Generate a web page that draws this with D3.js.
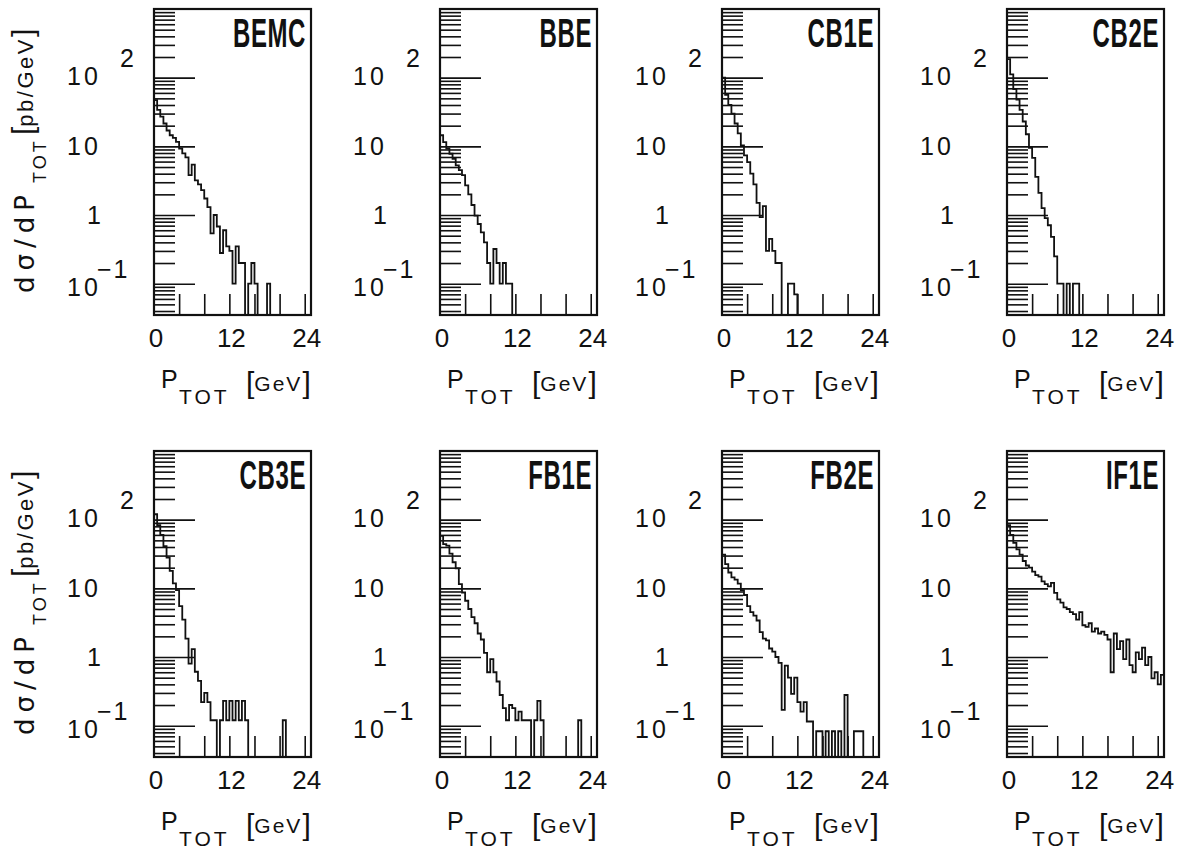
<!DOCTYPE html>
<html><head><meta charset="utf-8">
<script src="https://cdn.jsdelivr.net/npm/d3@7"></script>
<style>body{margin:0;background:#fff}svg{display:block}</style>
</head><body><svg id="c" width="1179" height="854"></svg>
<script>
// ---------------- data ----------------
const panelNames = ["BEMC","BBE","CB1E","CB2E","CB3E","FB1E","FB2E","IF1E"];
const binWidth = 0.5; // GeV, bins from 0 to 25 GeV
const bemc = [47,34,27,21.5,17,14.5,13.3,11.6,9.3,7.9,
  6.9,3.8,5.4,3.2,2.8,2.3,1.74,1.3,0.54,1.0,
  0.68,0.28,0.6,0.35,0.3,0.1,0.35,0.2,0.2,0,
  0.1,0.2,0.1,0,0,0,0.1,0,0,0,
  0,0,0,0,0,0,0,0,0,0];
const bbe = [14.5,11.5,9.3,7.8,6.6,5.3,4.5,3.8,2.7,2.0,
  1.4,0.98,0.74,0.56,0.4,0.2,0.1,0.32,0.2,0.1,
  0.2,0.1,0.1,0,0,0,0,0,0,0,
  0,0,0,0,0,0,0,0,0,0,
  0,0,0,0,0,0,0,0,0,0];
const cb1e = [100,56,40,30,21.5,15.4,10.3,7.4,5.9,4.0,
  2.8,1.5,0.93,1.35,0.3,0.45,0.3,0.2,0.2,0,
  0,0.1,0.1,0.07,0,0,0,0,0,0,
  0,0,0,0,0,0,0,0,0,0,
  0,0,0,0,0,0,0,0,0,0];
const cb2e = [186,112,68,48,34,23,15,9.5,6.8,3.6,
  2.1,1.26,0.9,0.71,0.48,0.25,0.1,0.1,0,0.1,
  0,0.1,0.1,0,0,0,0,0,0,0,
  0,0,0,0,0,0,0,0,0,0,
  0,0,0,0,0,0,0,0,0,0];
const cb3e = [120,83,60,41,28,18,11.8,9.4,5.5,3.5,
  1.85,0.8,1.3,0.61,0.45,0.22,0.3,0.22,0.12,0.12,
  0,0.12,0.23,0.12,0.23,0.12,0.23,0.12,0.23,0.12,
  0,0,0,0,0,0,0,0,0,0,
  0,0.12,0,0,0,0,0,0,0,0];
const fb1e = [58,44,42,32,24,19.6,11.5,8.7,6.6,5.0,
  3.8,3.1,2.2,1.8,1.15,0.6,0.93,0.6,0.44,0.28,
  0.18,0.12,0.2,0.18,0.12,0.16,0.12,0.12,0.12,0,
  0.12,0.23,0.12,0,0,0,0,0,0,0,
  0,0,0,0,0.12,0,0,0,0,0];
const fb2e = [31,22.5,17,14.4,13.4,11.7,9.4,8.0,5.5,4.5,
  4.0,3.4,2.3,1.85,1.75,1.33,1.2,1.0,0.82,0.17,
  0.75,0.5,0.29,0.5,0.22,0.16,0.22,0.115,0.115,0,
  0.083,0.083,0,0.083,0,0.083,0,0.083,0,0.28,
  0,0,0.083,0.083,0.083,0,0,0,0,0];
const if1e = [83,60,46,37,31,25,21.5,20,17.5,15.6,
  14.8,12.6,11.5,10.7,12,8.6,6.9,6.2,5.3,5.0,
  4.5,4.2,3.5,4.5,2.9,2.75,3.1,2.35,2.6,2.2,
  2.35,2.1,1.8,0.6,2.2,1.3,1.7,0.93,1.8,0.76,
  0.6,1.17,0.93,1.37,0.76,1.0,0.49,0.6,0.4,0.55];
const seriesValues = [bemc,bbe,cb1e,cb2e,cb3e,fb1e,fb2e,if1e];

const xDomain = [0,25];
const yDomain = [0.035,1000];
const xTickValues = [4,8,12,16,20,24];
const xTickLabels = [0,12,24];
const yTickValues = [0.1,1,10,100];
const yTickBase = ["10","1","10","10"];
const yTickExp  = ["\u22121","","","2"];

// ---------------- layout ----------------
const colLeft = [154,440,722,1007];
const rowTop = [9,451];
const W = 157, H = 306;
const svg = d3.select("#c");
const FONT = "'Liberation Sans', Arial, Helvetica, sans-serif";
const INK = "#111";

const x = d3.scaleLinear().domain(xDomain).range([0,W]);
const y = d3.scaleLog().domain(yDomain).range([H,0]);

const allY = y.ticks();
const majorY = allY.filter(v => yTickValues.includes(v));
const minorY = allY.filter(v => !yTickValues.includes(v) && v < 1000);

// label baseline offsets (px below tick) for 0.1,1,10,100
const labOff = [12,9,9,7];

seriesValues.forEach((vals,p) => {
  const L = colLeft[p%4], T = rowTop[Math.floor(p/4)];
  const g = svg.append("g").attr("transform",`translate(${L},${T})`);

  const cid = "clip"+p;
  g.append("clipPath").attr("id",cid).append("rect").attr("width",W).attr("height",H);

  // y ticks (inside, from left)
  const minorAxis = d3.axisRight(y).tickValues(minorY).tickSize(21).tickFormat("");
  const majorAxis = d3.axisRight(y).tickValues(majorY).tickSize(41).tickFormat("");
  [minorAxis, majorAxis].forEach(ax => {
    const a = g.append("g").call(ax);
    a.select(".domain").remove();
    a.selectAll("line").attr("stroke",INK).attr("stroke-width",1.6);
  });
  // x ticks (inside, from bottom)
  const xa = g.append("g").attr("transform",`translate(0,${H})`)
    .call(d3.axisTop(x).tickValues(xTickValues).tickSize(21).tickFormat(""));
  xa.select(".domain").remove();
  xa.selectAll("line").attr("stroke",INK).attr("stroke-width",1.6);

  // x labels
  const xl = g.append("g").attr("transform",`translate(0,${H})`)
    .call(d3.axisBottom(x).tickValues(xTickLabels).tickSize(0).tickFormat(d3.format("d")));
  xl.select(".domain").remove();
  xl.selectAll("text").attr("y",32).attr("dy",null).attr("dx",1.5)
    .attr("font-family",FONT).attr("font-size",26)
    .attr("fill",INK);

  // y labels
  yTickValues.forEach((v,i) => {
    const yy = y(v);
    if (yTickBase[i] === "1") {
      g.append("text").attr("x",-67).attr("y",yy+labOff[i]).text("1")
        .attr("font-family",FONT).attr("font-size",25).attr("fill",INK);
    } else {
      g.append("text").attr("x",-87).attr("y",yy+labOff[i]).text(yTickBase[i])
        .attr("font-family",FONT).attr("font-size",25).attr("letter-spacing",3).attr("fill",INK);
    }
    if (yTickExp[i] === "2") {
      g.append("text").attr("x",-34).attr("y",yy-11).text("2")
        .attr("font-family",FONT).attr("font-size",25).attr("fill",INK);
    } else if (yTickExp[i]) {
      g.append("text").attr("x",-57).attr("y",yy-6).text(yTickExp[i])
        .attr("font-family",FONT).attr("font-size",25).attr("letter-spacing",2).attr("fill",INK);
    }
  });

  // histogram
  const bottom = y.range()[0];
  const pts = [];
  vals.forEach((v,i) => {
    const yy = v > 0 ? y(v) : bottom + 2;
    pts.push([x(i*binWidth), yy], [x((i+1)*binWidth), yy]);
  });
  g.append("path").attr("d", d3.line()(pts)).attr("clip-path",`url(#${cid})`)
    .attr("fill","none").attr("stroke",INK).attr("stroke-width",1.8)
    .attr("stroke-linejoin","miter");

  // frame
  g.append("rect").attr("width",W).attr("height",H)
    .attr("fill","none").attr("stroke",INK).attr("stroke-width",2.2);

  // panel name (bold, horizontally condensed)
  const nm = panelNames[p];
  g.append("g").attr("transform",`translate(${W-5},38) scale(0.6,1)`)
    .append("text").attr("text-anchor","end")
    .attr("font-family","'Liberation Sans', Arial, sans-serif").attr("font-weight","bold")
    .attr("font-size",40).attr("letter-spacing",1).attr("fill",INK)
    .text(nm);

  // x title
  const xt = g.append("g").attr("font-family",FONT).attr("fill",INK);
  xt.append("text").attr("x",7).attr("y",H+73).attr("font-size",25).text("P");
  xt.append("text").attr("x",25).attr("y",H+89).attr("font-size",21).attr("letter-spacing",3).text("TOT");
  const gev = xt.append("text").attr("x",92).attr("y",H+78);
  gev.append("tspan").attr("font-size",30).text("[");
  gev.append("tspan").attr("font-size",21).attr("dy",-2).attr("letter-spacing",2).text("GeV");
  gev.append("tspan").attr("font-size",30).attr("dy",2).text("]");

  // y title (first column only)
  if (p%4 === 0) {
    const yt = svg.append("g").attr("transform",`translate(34,${T+284}) rotate(-90)`)
      .attr("font-family",FONT).attr("fill",INK);
    yt.append("text").attr("x",0).attr("y",0).attr("font-size",26)
      .attr("font-family","'DejaVu Sans', sans-serif").attr("letter-spacing",6).text("d\u03c3/dP");
    yt.append("text").attr("x",110).attr("y",12).attr("font-size",18)
      .attr("letter-spacing",3).text("TOT");
    const u = yt.append("text").attr("x",158).attr("y",-1);
    u.append("tspan").attr("font-size",30).text("[");
    u.append("tspan").attr("font-size",22).attr("letter-spacing",2.5).text("pb/GeV");
    u.append("tspan").attr("font-size",30).text("]");
  }
});
</script></body></html>
